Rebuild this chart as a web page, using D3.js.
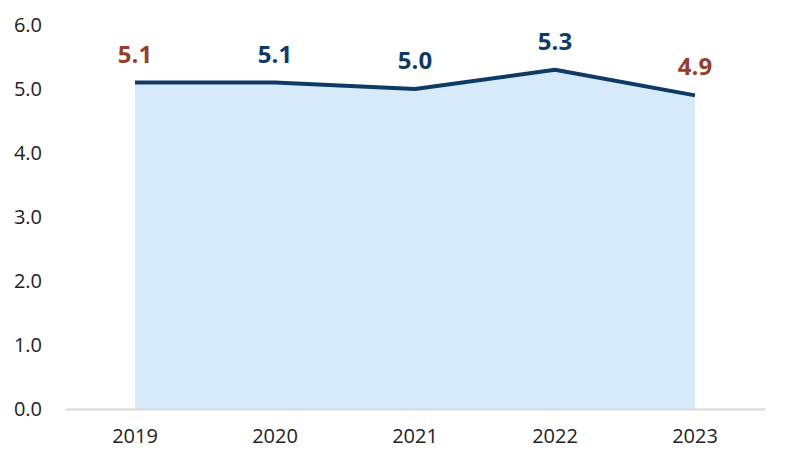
<!DOCTYPE html>
<html>
<head>
<meta charset="utf-8">
<script src="https://d3js.org/d3.v7.min.js"></script>
<style>
  body { margin: 0; background: #fff; }
  text { font-family: "Open Sans", "Noto Sans", sans-serif; }
</style>
</head>
<body>
<svg id="chart" width="786" height="468"></svg>
<script>
  var years = ["2019", "2020", "2021", "2022", "2023"];
  var values = [5.1, 5.1, 5.0, 5.3, 4.9];
  var labelColors = ["#953e2c", "#0d3b66", "#0d3b66", "#0d3b66", "#953e2c"];
  var yTicks = [0, 1, 2, 3, 4, 5, 6];

  var data = years.map(function(y, i) { return { year: y, value: values[i] }; });

  var svg = d3.select("#chart");
  var margin = { left: 65, right: 765, top: 25, bottom: 409 };

  var x = d3.scaleBand().domain(years).range([margin.left, margin.right]);
  var y = d3.scaleLinear().domain([0, 6]).range([margin.bottom, margin.top]);
  function cx(d) { return x(d.year) + x.bandwidth() / 2; }

  // y axis labels
  svg.append("g")
    .attr("transform", "translate(" + (margin.left - 20) + ",0)")
    .call(d3.axisLeft(y).tickValues(yTicks).tickFormat(d3.format(".1f")).tickSize(0))
    .call(function(g) { g.select(".domain").remove(); })
    .selectAll("text")
      .attr("font-size", "20px")
      .attr("fill", "#222");

  // area
  svg.append("path")
    .datum(data)
    .attr("fill", "#d6eafa")
    .attr("d", d3.area().x(cx).y0(y(0)).y1(function(d) { return y(d.value); }));

  // x axis
  svg.append("g")
    .attr("transform", "translate(0," + margin.bottom + ")")
    .call(d3.axisBottom(x).tickSize(0).tickPadding(20))
    .call(function(g) { g.select(".domain").attr("stroke", "#d9d9d9").attr("stroke-width", 2); })
    .selectAll("text")
      .attr("font-size", "20px")
      .attr("fill", "#222");

  // line
  svg.append("path")
    .datum(data)
    .attr("fill", "none")
    .attr("stroke", "#0d3b66")
    .attr("stroke-width", 4)
    .attr("stroke-linejoin", "round")
    .attr("d", d3.line().x(cx).y(function(d) { return y(d.value); }));

  // value labels
  svg.selectAll(".lbl")
    .data(data)
    .enter()
    .append("text")
      .attr("class", "lbl")
      .attr("x", cx)
      .attr("y", function(d) { return y(d.value) - 20; })
      .attr("text-anchor", "middle")
      .attr("font-size", "24px")
      .attr("font-weight", "bold")
      .attr("fill", function(d, i) { return labelColors[i]; })
      .text(function(d) { return d3.format(".1f")(d.value); });
</script>
</body>
</html>
